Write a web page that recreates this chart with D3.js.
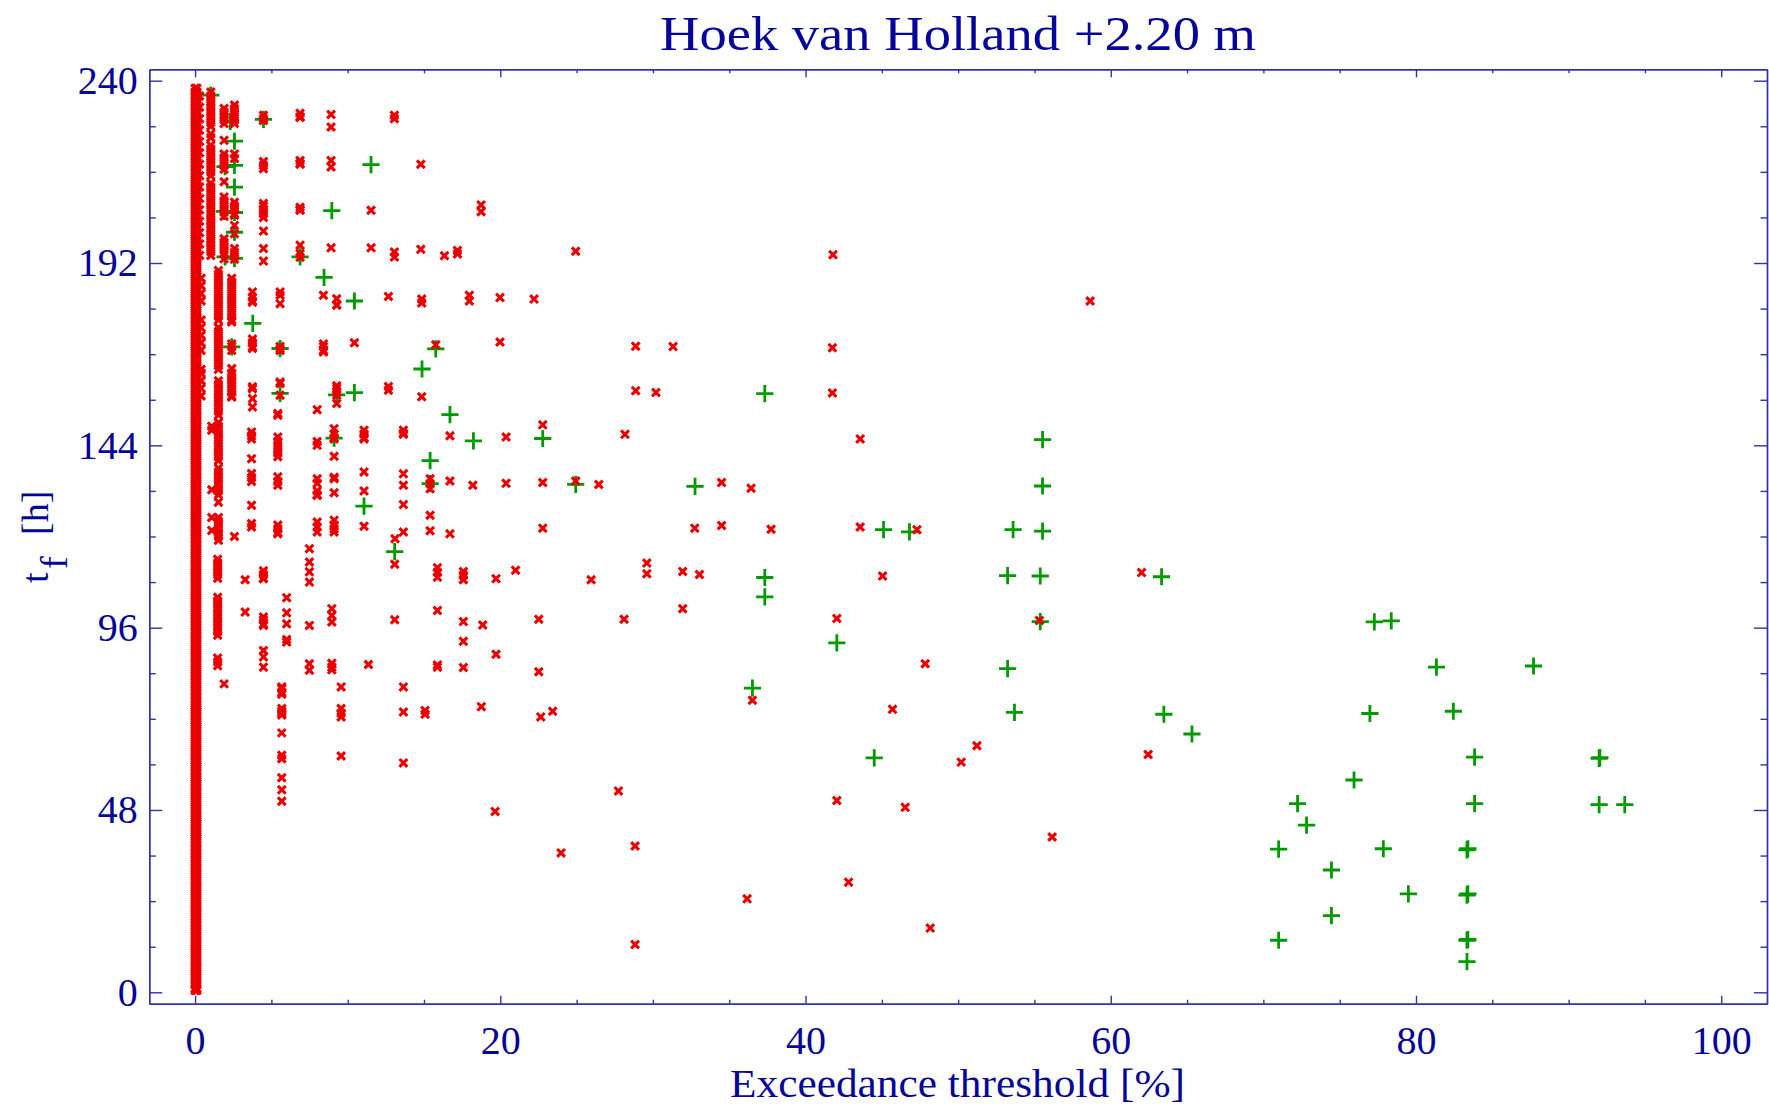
<!DOCTYPE html>
<html>
<head>
<meta charset="utf-8">
<title>Hoek van Holland</title>
<script src="https://d3js.org/d3.v7.min.js"></script>
<style>
    html, body { margin: 0; padding: 0; background: #fff; }
    svg { display: block; }
    text { font-family: "Liberation Serif", serif; fill: #05059a; }
</style>
</head>
<body>
<svg id="drawing_region"></svg>
<script>
// axis ticks
const xMajorTicks = [0, 20, 40, 60, 80, 100];
const xMinorTicks = [5, 10, 15, 25, 30, 35, 45, 50, 55, 65, 70, 75, 85, 90, 95];
const yMajorTicks = [0, 48, 96, 144, 192, 240];
const yMinorTicks = [12, 24, 36, 60, 72, 84, 108, 120, 132, 156, 168, 180, 204, 216, 228];

// the thick band of red points next to zero
const zeroBandA = [0.5,2,4,6,8,10,12,14,16,18,20,22,24,26,28,30,32,34,36,38,40,42,44,46,48,50,52,54,56,58,60,62,64,66,68,70,72,74,76,78,80,82,84,86,88,90,92,94,96,98,100,102,104,106,108,110,112,114,116,118,120,122,124,126,128,130,132,134,136,138,140,142,144,146,148,150,152,154,156,158,160,162,164,166,168,170,172,174,176,178,180,182,184,186,188,190,192,194,196,198,200,202,204,206,208,210,212,214,216,218,220,222,224,226,228,230,232,234,236,238];
const zeroBandB = [1,3,5,7,9,11,13,15,17,19,21,23,25,27,29,31,33,35,37,39,41,43,45,47,49,51,53,55,57,59,61,63,65,67,69,71,73,75,77,79,81,83,85,87,89,91,93,95,97,99,101,103,105,107,109,111,113,115,117,119,121,123,125,127,129,131,133,135,137,139,141,143,145,147,149,151,153,155,157,159,161,163,165,167,169,171,173,175,177,179,181,183,185,187,189,191,193,195,197,199,201,203,205,207,209,211,213,215,217,219,221,223,225,227,229,231,233,235,237];
const zeroEdgeHigh = [194,197,200,203,206,209,212,215,218,221,224,227,230,233,236];
const zeroEdgeMid = [157,159,161,163,164,169,171,173,175,177,182,184,186,188];

// red points in their narrow columns: t_f [h]
const col103 = [237,236,235,234,233,232,231,230,229,228,226,225,223,222,221,220,219,218,217,216,215,213,212,211,210,209,208,207,206,205,204,203,202,201,200,199,198,197,196,195,194];
const col109 = [149,148,132.3,125,121.6];
const col148 = [114,113,112,111,110,109,104,103,102,101,100,99,98,97,96,95,94,88,87,86];
const col153 = [190,189,188,187,186,185,184,183,182,181,180,179,178,177,175,174,173,172,171,170,169,168,167,166,165,164,161,160,159,158,157,156,155,154,153,152,150,149,148,147,146,145,144,143,142,141,140,138,137,136,135,134,133,132,131,129,125,124,123,122,121,120,119];
const col190 = [232.7,231.7,230.7,229.7,228.7,224.3,220.7,219.7,218.7,217.7,216.7,213.4,209.4,208.4,207.4,206.4,205.4,204.3,198.4,197.4,196.4,195.4,194.4,193.1,81.2];
const col240 = [188,187,186,185,184,183,182,181,180,179,178,177,176.5,170.7,170,169,164.2,163,162,161,160,159,158,157,156.7];
const col258 = [233.6,232.6,231.6,230.6,229.6,228.7,220.7,219.5,208,207,206,205,204.6,201.9,199.7,195.8,194.8,193.8,193,120];
const col328 = [108.6,100.1];
const col370 = [147.5,146.5,145.7,140.5,136.6,135.5,134.5,128.2,123.4,122.5];
const col376 = [184.4,183,182,181.7,172,171,170,169.5,159.4,158.9,156.3,154.1];
const col448 = [230.9,230,229.5,218.7,217.7,216.8,207.7,207,206,205,204,200.4,195.8,192.5,111,110,109,108.9,98.8,98,97,96.6,90,88.3,85.6];
const col542 = [152.4,151.9,146.2,145,144,143,142,141,135.7,134.5,133.5,123,122,121,120.7];
const col557 = [184.4,183.5,181.3,170,169.4,169,160.7,160.3,157.2];
const col568 = [80.4,80,79,78.5,74.7,74,73.5,73,68.3,62.4,61.5,56.5,53.3,50.3];
const col600 = [103.9,99.9,97,92.9,92.2];
const col688 = [231.4,230.5,230.3,219,218.2,218,206.7,206,205.9,196.7,194.5,193.5];
const col749 = [116.8,113.3,110.7,108,96.6,86.5,84.8];
const col800 = [153.4,145,144,135.2,134,132,131,130.8,123.8,122.5,121.2];
const col841 = [183.5,170.7,170,169,168.6];
const col891 = [231.1,227.8,219,217.3,196];
const col896 = [101,99.2,97.5,86.6,85.6,84.9];
const col911 = [148.4,147,146,145.7,141.1,135.6,135.2,131.5,124.3,123,122,121.2];
const col928 = [182.6,181,180.9,159.7,159,158,157.2,155];
const col957 = [80.4,74.7,73.5,72.5,62.2];
const col1107 = [148,147,146,145.7,137,132,122.7];
const col1369 = [148,147.2,146.9,136.5,133.5,128.4,121.2,80.4,73.8,60.4];

// scattered red points, x [%] and t_f [h] by index
const redX = [10.44,11.36,11.53,11.53,12.67,12.67,12.67,13.06,13.06,13.06,13.06,13.08,13.08,13.1,14.79,14.79,14.85,14.85,14.85,15.07,15.07,15.4,15.4,15.4,15.4,15.4,15.77,15.88,15.88,15.88,15.88,15.88,15.88,16.34,16.7,16.7,16.7,17.19,17.19,17.58,17.58,17.58,17.58,17.58,17.58,17.97,17.97,18.2,18.74,18.74,18.76,18.85,19.66,19.72,19.72,19.98,19.98,20.38,20.38,21.0,22.21,22.52,22.52,22.65,22.78,22.78,22.78,23.43,23.98,24.94,24.94,25.95,26.45,27.74,28.11,28.17,28.83,28.83,28.87,28.87,29.6,29.6,30.2,31.32,31.95,31.95,32.74,33.05,34.5,34.5,36.17,36.43,36.52,37.74,41.76,41.76,41.8,42.05,42.05,42.82,43.58,43.58,45.05,45.7,46.53,47.3,47.84,48.17,50.2,51.23,55.33,56.16,58.65,62.02,62.45];
const redT = [171,86.3,205.9,196,183.2,159.5,158.5,230.9,230,194.9,193.6,112.7,98.1,119.4,218,195.6,182.5,181.5,156.8,74.2,73.2,135.2,133.9,132.6,125.6,121.5,170.5,111.8,110.6,109.3,100.5,86.2,85.6,193.9,146.5,134.6,120.7,195.3,194.4,110.8,109.8,108.6,97.6,92.4,85.5,183.5,182,133.5,207.3,205.5,75.2,96.7,47.6,108.9,89,182.9,171.2,146.2,134,111.1,182.5,98.2,84.4,72.5,149.4,134.2,122.2,74,36.7,195.1,134.6,108.6,133.7,53,98.2,146.9,38.5,12.6,170.1,158.4,113,110.2,157.9,170,110.8,101,122.2,110,134.2,122.9,24.6,132.7,76.9,121.9,169.7,157.8,194.2,98.4,50.5,29,145.7,122.5,109.6,74.5,48.7,121.8,86.5,16.9,60.6,64.9,97.9,40.9,182,110.5,62.6];

// green points, x [%] and t_f [h] by index
const greenX = [1.03,1.92,1.96,1.96,2.3,2.4,2.58,2.58,2.58,2.58,2.58,2.58,3.78,4.48,5.57,5.57,6.88,8.45,8.96,9.11,9.28,10.44,10.44,11.07,11.53,13.08,14.87,15.4,15.4,15.77,16.7,18.24,22.78,24.94,32.76,36.52,37.33,37.33,37.33,42.05,44.5,45.11,46.81,53.24,53.24,53.6,53.69,55.38,55.38,55.53,55.53,55.53,63.33,63.48,65.32,71,71,72.24,72.83,74.46,74.46,75.94,76.98,77.27,77.86,78.38,79.5,81.34,82.45,83.34,83.4,83.34,83.4,83.34,83.4,83.34,83.84,83.84,87.7,92,92.05,92,93.68];
const greenT = [236.2,205.6,217.4,193.6,229.3,169.9,224.1,217.7,212,205.3,200.1,193.2,176.1,229.8,169.5,157.7,193.6,188.2,205.8,145.9,157.3,182,157.9,128,217.9,116,164.1,140,133.9,169.4,152.1,145.2,145.8,133.7,133.2,80.1,157.6,109.2,104.1,92,61.7,121.8,121.2,109.7,85.2,121.8,73.7,109.6,97.6,145.5,133.3,121.4,109.4,73.2,68,37.7,13.7,49.7,44,32.2,20.2,55.9,73.4,97.5,37.8,97.8,25.9,85.6,74,37.5,37.8,25.6,25.9,13.7,13.9,8.1,61.9,49.7,85.9,61.6,61.8,49.4,49.4];

class ExceedanceChart {

    constructor( config ) {
        this.config = config;
        this.init();
    }

    init() {
        let self = this;
        const cfg = self.config;

        self.svg = d3.select( cfg.parent )
            .attr('width', cfg.width)
            .attr('height', cfg.height);

        self.xscale = d3.scaleLinear()
            .domain([-3, 103])
            .range([cfg.left, cfg.right]);

        self.yscale = d3.scaleLinear()
            .domain([-3, 243])
            .range([cfg.bottom, cfg.top]);
    }

    // one side of the frame, major ticks first, then the short ones
    side( make, scale, offset, major, minor, bigSize, smallSize, labels, padding ) {
        let self = this;

        const big = make( scale )
            .tickValues( major )
            .tickSize( bigSize )
            .tickSizeOuter(0)
            .tickPadding( padding )
            .tickFormat( labels ? d3.format('d') : '' );

        const small = make( scale )
            .tickValues( minor )
            .tickSize( smallSize )
            .tickSizeOuter(0)
            .tickFormat('');

        [big, small].forEach( axis => {
            const g = self.svg.append('g')
                .attr('transform', offset)
                .call( axis );
            g.selectAll('path, line')
                .attr('stroke', '#3232a6')
                .attr('stroke-width', 1.4);
            g.selectAll('text')
                .attr('font-size', 40)
                .attr('font-family', '"Liberation Serif", serif')
                .attr('fill', '#05059a');
        });
    }

    render() {
        let self = this;
        const cfg = self.config;

        self.side( d3.axisBottom, self.xscale, `translate(0, ${cfg.bottom})`, xMajorTicks, xMinorTicks, -8, -4, true, 22 );
        self.side( d3.axisTop, self.xscale, `translate(0, ${cfg.top})`, xMajorTicks, xMinorTicks, -8, -4, false, 0 );
        self.side( d3.axisLeft, self.yscale, `translate(${cfg.left}, 0)`, yMajorTicks, yMinorTicks, -13, -6.5, true, 11.6 );
        self.side( d3.axisRight, self.yscale, `translate(${cfg.right}, 0)`, yMajorTicks, yMinorTicks, -13, -6.5, false, 0 );

        // green goes under the red crosses
        const greens = greenX.map( (x, i) => ({x: x, t: greenT[i]}) );
        self.svg.append('g').selectAll('path')
            .data( greens )
            .join('path')
            .attr('d', 'M-8.6,0H8.6M0,-8.6V8.6')
            .attr('transform', d => `translate(${self.xscale(d.x)}, ${self.yscale(d.t)})`)
            .attr('fill', 'none')
            .attr('stroke', '#009a00')
            .attr('stroke-width', 2.8);

        const columns = [
            [0.0, zeroBandA], [0.0, zeroBandB], [0.12, zeroBandA], [0.12, zeroBandB],
            [0.3, zeroEdgeHigh], [0.4, zeroEdgeMid],
            [1.03, col103], [1.09, col109], [1.48, col148], [1.53, col153], [1.9, col190],
            [2.4, col240], [2.58, col258], [3.28, col328], [3.7, col370], [3.76, col376],
            [4.48, col448], [5.42, col542], [5.57, col557], [5.68, col568], [6.0, col600],
            [6.88, col688], [7.49, col749], [8.0, col800], [8.41, col841], [8.91, col891],
            [8.96, col896], [9.11, col911], [9.28, col928], [9.57, col957], [11.07, col1107],
            [13.65, col1369]
        ];
        const reds = columns.flatMap( c => c[1].map( t => ({x: c[0], t: t}) ) )
            .concat( redX.map( (x, i) => ({x: x, t: redT[i]}) ) );

        self.svg.append('g').selectAll('path')
            .data( reds )
            .join('path')
            .attr('d', 'M-3.9,-3.9L3.9,3.9M-3.9,3.9L3.9,-3.9')
            .attr('transform', d => `translate(${self.xscale(d.x)}, ${self.yscale(d.t)})`)
            .attr('fill', 'none')
            .attr('stroke', '#ea0000')
            .attr('stroke-width', 3.1);

        self.svg.append('text')
            .attr('x', 958)
            .attr('y', 50)
            .attr('text-anchor', 'middle')
            .attr('font-size', 49)
            .attr('textLength', 596)
            .attr('lengthAdjust', 'spacingAndGlyphs')
            .text('Hoek van Holland +2.20 m');

        self.svg.append('text')
            .attr('x', 957.5)
            .attr('y', 1097)
            .attr('text-anchor', 'middle')
            .attr('font-size', 40)
            .attr('textLength', 455)
            .attr('lengthAdjust', 'spacingAndGlyphs')
            .text('Exceedance threshold [%]');

        // y label: t, subscript f, then the unit
        const ylabel = [
            {s: 't', x: 47.7, y: 583},
            {s: 'f', x: 67, y: 569},
            {s: '[h]', x: 47.7, y: 535}
        ];
        self.svg.append('g').selectAll('text')
            .data( ylabel )
            .join('text')
            .attr('transform', d => `translate(${d.x}, ${d.y}) rotate(-90)`)
            .attr('font-size', 38)
            .text( d => d.s );
    }
}

const chart = new ExceedanceChart({
    parent: '#drawing_region',
    width: 1769,
    height: 1106,
    left: 149.3,
    right: 1767,
    top: 69.3,
    bottom: 1003.7
});
chart.render();
</script>
</body>
</html>
